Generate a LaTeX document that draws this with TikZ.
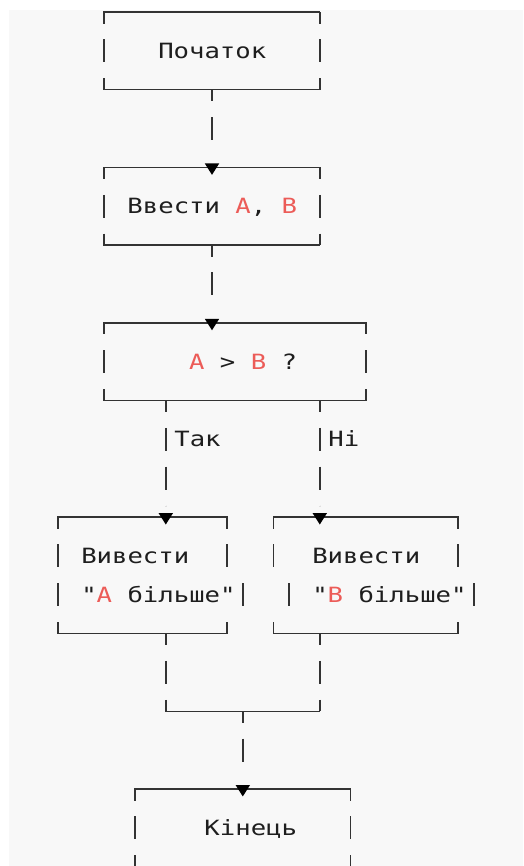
\documentclass[tikz,border=0pt]{standalone}
\usepackage{fontspec}
\usepackage{tikz}
\usetikzlibrary{arrows.meta, calc, decorations.markings}
\newfontfamily\asciifont[FakeStretch=1.22]{DejaVu Sans Mono}
\definecolor{linegray}{RGB}{51, 51, 51}
\definecolor{textdark}{RGB}{30, 30, 30}
\definecolor{varred}{RGB}{236, 92, 88}
\definecolor{pagebg}{RGB}{248, 248, 248}
\newcommand{\colw}{15.4pt}
\newcommand{\rowh}{38.85pt}
\newcommand{\hlvar}[1]{\textcolor{varred}{#1}}

\begin{document}
\begin{tikzpicture}[
    x=\colw, y=-\rowh,
    hline/.style={draw=linegray, line width=1.4pt, line cap=rect},
    vside/.style={draw=linegray, line width=1.8pt, dash pattern=on 23pt off 15.85pt, dash phase=11.5pt},
    vbar/.style={draw=linegray, line width=1.8pt},
    asciibox/.style={inner sep=0pt, outer sep=0pt, append after command={
        (\tikzlastnode.north west) edge[hline] (\tikzlastnode.north east)
        (\tikzlastnode.south west) edge[hline] (\tikzlastnode.south east)
        (\tikzlastnode.north west) edge[vside] (\tikzlastnode.south west)
        (\tikzlastnode.north east) edge[vside] (\tikzlastnode.south east)}},
    openbox/.style={inner sep=0pt, outer sep=0pt, append after command={
        (\tikzlastnode.north west) edge[hline] (\tikzlastnode.north east)
        (\tikzlastnode.south west) edge[hline] (\tikzlastnode.south east)}},
    flow/.style={vside, shorten >=11.5pt, postaction={decorate}, decoration={markings,
        mark=at position 1 with {\pgftransformxshift{7.5pt}\arrow{Triangle[length=11.5pt, width=14pt, color=black]}}}},
    txt/.style={font=\asciifont\fontsize{21}{25}\selectfont, text=textdark, inner sep=0pt, anchor=base west, yshift=-7.5pt},
    branch/.style={txt, xshift=7.7pt}
]
    \useasboundingbox (-3.766,-0.309) rectangle (30.195,21.982);
    \clip (-3.766,-0.309) rectangle (30.195,21.982);
    \fill[pagebg] (-3.18,-0.05) rectangle (30.195,21.982);

    % Boxes
    \node[asciibox, minimum width=14*\colw, minimum height=2*\rowh] (start) at (10,1) {};
    \node[asciibox, minimum width=14*\colw, minimum height=2*\rowh] (input) at (10,5) {};
    \node[asciibox, minimum width=17*\colw, minimum height=2*\rowh] (cond) at (11.5,9) {};
    \node[openbox, minimum width=11*\colw, minimum height=3*\rowh] (outa) at (5.5,14.5) {};
    \node[openbox, minimum width=12*\colw, minimum height=3*\rowh] (outb) at (20,14.5) {};
    \node[asciibox, minimum width=14*\colw, minimum height=2*\rowh] (stop) at (12,21) {};

    % Sides of the two output boxes (rows do not line up)
    \draw[vside] (outa.north west) -- (outa.south west);
    \draw[vside] (outa.north east) -- ++(0,1.3);
    \draw[vside] (outa.south east) -- ++(0,-0.3);
    \draw[vbar] (12,14.7) -- (12,15.3);
    \draw[vside] (outb.north west) -- ++(0,1.3);
    \draw[vside] (outb.south west) -- ++(0,-0.3);
    \draw[vbar] (15,14.7) -- (15,15.3);
    \draw[vside] (outb.north east) -- ++(0,1.3);
    \draw[vside] (outb.south east) -- ++(0,-0.3);
    \draw[vbar] (27,14.7) -- (27,15.3);

    % Texts
    \node[txt] (tstart) at (6.5,1) {Початок};
    \node[txt] (tinput) at (4.5,5) {Ввести \hlvar{A}, \hlvar{B}};
    \node[txt] (tcond) at (8.5,9) {\hlvar{A} > \hlvar{B} ?};
    \node[txt] (touta) at (1.5,14) {Вивести};
    \node[txt] (toutamsg) at (1.5,15) {"\hlvar{A} більше"};
    \node[txt] (toutb) at (16.5,14) {Вивести};
    \node[txt] (toutbmsg) at (16.5,15) {"\hlvar{B} більше"};
    \node[txt] (tstop) at (9.5,21) {Кінець};

    % Connectors
    \coordinate (yes) at (7,10);
    \coordinate (no) at (17,10);
    \coordinate (merge) at (12,18);
    \draw[flow] (start.south) -- (input.north);
    \draw[flow] (input.south) -- (input.south |- cond.north);
    \draw[flow] (yes) -- node[branch, pos=1/3] (lyes) {Так} (yes |- outa.north);
    \draw[flow] (no) -- node[branch, pos=1/3] (lno) {Ні} (no |- outb.north);
    \draw[vside] (yes |- outa.south) -- (yes |- merge);
    \draw[vside] (no |- outb.south) -- (no |- merge);
    \draw[hline] (yes |- merge) -- (no |- merge);
    \draw[flow] (merge) -- (stop.north);
\end{tikzpicture}
\end{document}
